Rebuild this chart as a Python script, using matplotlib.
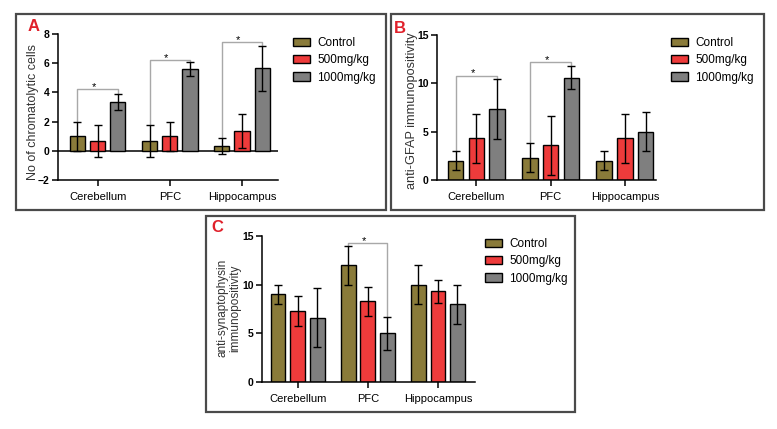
import matplotlib
matplotlib.use("Agg")
import numpy as np
import matplotlib.pyplot as plt
from matplotlib.patches import Patch, Rectangle

plt.rcParams['font.family'] = ['Liberation Sans', 'DejaVu Sans']

regions = ["Cerebellum", "PFC", "Hippocampus"]
groups = ["Control", "500mg/kg", "1000mg/kg"]
colors = ["#8a7b3a", "#ee3b3b", "#7f7f7f"]

# panel A - chromatolytic cells
a_mean = [[1.0, 0.7, 0.35], [0.7, 1.0, 1.35], [3.35, 5.6, 5.65]]
a_err = [[1.0, 1.1, 0.55], [1.1, 1.0, 1.15], [0.55, 0.5, 1.55]]
a_sig = [(0, 4.25), (1, 6.2), (2, 7.45)]

# panel B - anti-GFAP
b_mean = [[2.0, 2.3, 2.0], [4.3, 3.6, 4.3], [7.3, 10.6, 5.0]]
b_err = [[1.0, 1.5, 1.0], [2.5, 3.05, 2.5], [3.1, 1.15, 2.0]]
b_sig = [(0, 10.8), (1, 12.2)]

# panel C - anti-synaptophysin
c_mean = [[9.0, 12.0, 10.0], [7.3, 8.3, 9.3], [6.6, 5.0, 8.0]]
c_err = [[1.0, 2.0, 2.0], [1.5, 1.5, 1.15], [3.05, 1.7, 2.0]]
c_sig = [(1, 14.25)]

W, H = 777, 429
fig = plt.figure(figsize=(W / 100, H / 100), dpi=100)


def px_axes(l, t, r, b):
    return fig.add_axes([l / W, 1 - b / H, (r - l) / W, (b - t) / H])


def box(x0, y0, x1, y1):
    fig.add_artist(Rectangle((x0 / W, 1 - y1 / H), (x1 - x0) / W, (y1 - y0) / H,
                             transform=fig.transFigure, fill=False,
                             edgecolor="#4a4a4a", lw=1.6))


def draw_panel(ax, mean, err, sig, ylim, yticks, xlim):
    x = np.arange(len(regions))
    off = 0.28
    for k in range(3):
        ax.bar(x + (k - 1) * off, mean[k], width=0.21, color=colors[k],
               edgecolor="black", lw=1, zorder=2)
        ax.errorbar(x + (k - 1) * off, mean[k], yerr=err[k], fmt="none",
                    ecolor="black", elinewidth=1, capsize=3, capthick=1, zorder=3)
    for i, yh in sig:
        yl = mean[0][i] + err[0][i]
        yr = mean[2][i] + err[2][i]
        ax.plot([i - off, i - off, i + off, i + off], [yl, yh, yh, yr],
                color="#a8a8a8", lw=1, zorder=1)
        ax.annotate("*", (i - 0.05, yh), xytext=(0, 1.5), textcoords="offset points",
                    ha="center", va="center", fontsize=8)
    ax.set_ylim(*ylim)
    ax.set_xlim(*xlim)
    ax.set_yticks(yticks)
    ax.set_xticks(x)
    ax.set_xticklabels(regions, fontsize=8)
    for lab in ax.get_yticklabels():
        lab.set_fontweight("bold")
        lab.set_fontsize(7.5)
    ax.spines["top"].set_visible(False)
    ax.spines["right"].set_visible(False)
    ax.spines["left"].set_linewidth(1.1)
    ax.spines["bottom"].set_linewidth(1.1)
    ax.tick_params(length=4, width=1.1, pad=2)
    ax.tick_params(axis="x", pad=5)
    ax.patch.set_alpha(0)


def legend(ax, x, y):
    handles = [Patch(facecolor=c, edgecolor="black", lw=1) for c in colors]
    ax.legend(handles, groups, loc="upper left", bbox_to_anchor=(x / W, 1 - y / H),
              bbox_transform=fig.transFigure, frameon=False, borderpad=0,
              borderaxespad=0, handlelength=1.45, handleheight=0.7,
              handletextpad=0.6, labelspacing=0.45, fontsize=8.5)


box(16, 14, 386, 210)
box(391, 14, 764, 210)
box(206, 216, 575, 412)

axA = px_axes(58, 34, 278, 180)
draw_panel(axA, a_mean, a_err, a_sig, (-2, 8), [-2, 0, 2, 4, 6, 8], (-0.55, 2.5))
axA.axhline(0, color="black", lw=1.1, zorder=1)
legend(axA, 293, 37)
fig.text(33 / W, 1 - 112 / H, "No of chromatolytic cells", rotation=90,
         ha="center", va="center", fontsize=9, color="#333333")

axB = px_axes(437, 35, 656, 180)
draw_panel(axB, b_mean, b_err, b_sig, (0, 15), [0, 5, 10, 15], (-0.53, 2.42))
legend(axB, 671, 37)
fig.text(412 / W, 1 - 111 / H, "anti-GFAP immunopositivity", rotation=90,
         ha="center", va="center", fontsize=9.2, color="#333333")

axC = px_axes(262, 236, 475, 382)
draw_panel(axC, c_mean, c_err, c_sig, (0, 15), [0, 5, 10, 15], (-0.51, 2.53))
legend(axC, 485, 238)
fig.text(229 / W, 1 - 308 / H, "anti-synaptophysin\nimmunopositivity", rotation=90,
         ha="center", va="center", fontsize=8.5, color="#333333", linespacing=1.05)

for lx, ly, s in [(28, 31, "A"), (394, 33, "B"), (211, 232, "C")]:
    fig.text(lx / W, 1 - ly / H, s, color="#e0202a", fontsize=12,
             fontweight="bold", va="baseline")

fig.savefig("out.png", dpi=100)
